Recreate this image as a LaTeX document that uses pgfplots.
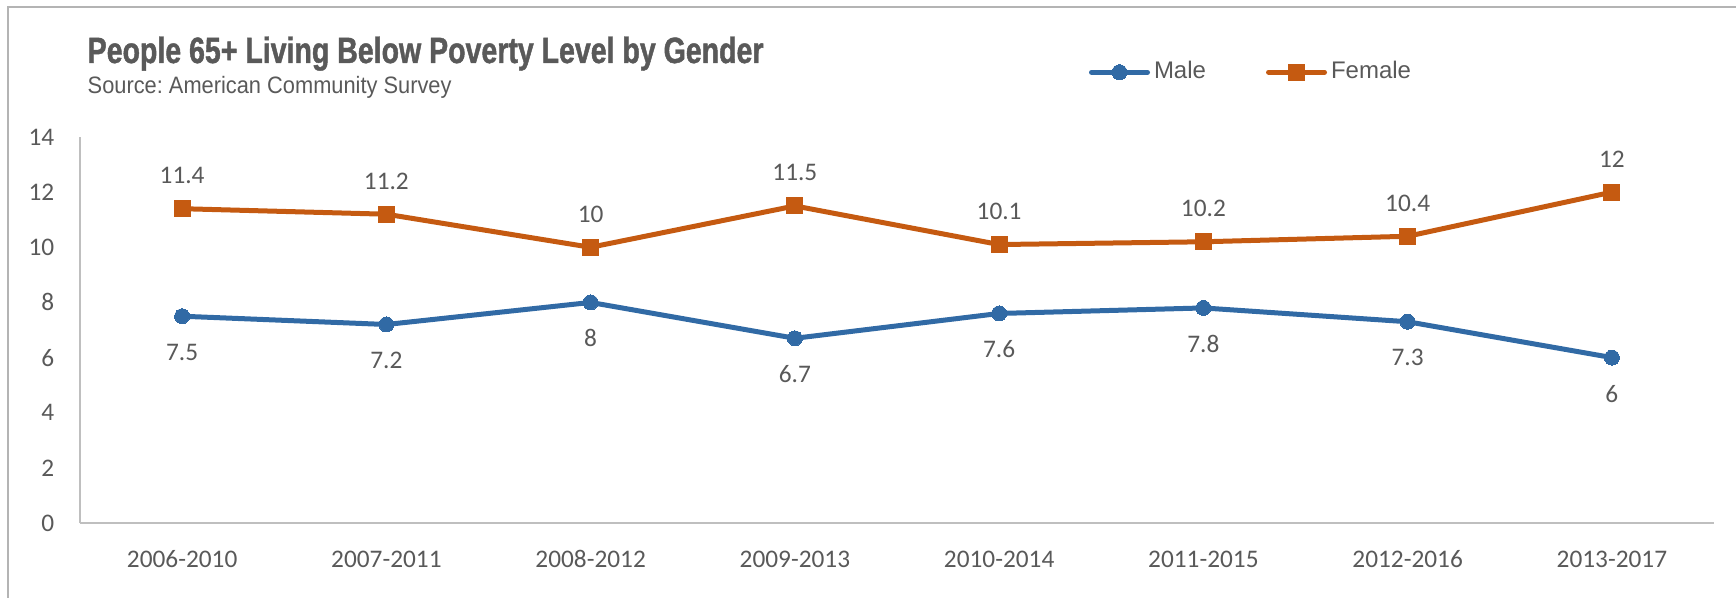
\documentclass[border=0pt]{standalone}
\usepackage{fontspec}
\setmainfont{Carlito}
\newfontfamily\legfont{Liberation Sans}
\newfontfamily\titlefont[FakeStretch=0.78, BoldFeatures={FakeBold=1.2}]{Liberation Sans}
\newfontfamily\subfont[FakeStretch=0.92]{Liberation Sans}
\usepackage{pgfplots}
\pgfplotsset{compat=1.18}
\definecolor{maleblue}{RGB}{49,106,165}
\definecolor{femorange}{RGB}{197,90,17}
\definecolor{txtgray}{RGB}{89,89,89}
\definecolor{axgray}{RGB}{191,191,191}
\definecolor{bordergray}{RGB}{180,180,180}
\frenchspacing
\begin{document}
\begin{tikzpicture}
\useasboundingbox (0,0) rectangle (173.6mm,59.7mm);
\draw[bordergray, line width=0.2mm] (0.8mm,-1mm) -- (0.8mm,59.0mm) -- (175mm,59.0mm);
\node[anchor=base west, inner sep=0pt, text=txtgray] at (8.7mm,53.4mm)
  {\titlefont\bfseries\fontsize{10.4pt}{12pt}\selectfont People 65+ Living Below Poverty Level by Gender};
\node[anchor=base west, inner sep=0pt, text=txtgray] at (8.7mm,50.4mm)
  {\subfont\fontsize{6.75pt}{8pt}\selectfont Source: American Community Survey};
\begin{axis}[
  at={(8.0mm,7.4mm)}, anchor=south west,
  scale only axis, width=163.4mm, height=38.6mm,
  xmin=-0.5, xmax=7.5, ymin=0, ymax=14,
  xtick={0,1,2,3,4,5,6,7},
  xticklabels={2006-2010,2007-2011,2008-2012,2009-2013,2010-2014,2011-2015,2012-2016,2013-2017},
  ytick={0,2,4,6,8,10,12,14},
  axis x line*=bottom, axis y line*=left,
  axis line style={axgray, line width=0.15mm, -},
  major tick length=0pt,
  /pgf/number format/assume math mode=true,
  tick label style={font=\fontsize{7.2pt}{8.5pt}\selectfont, text=txtgray},
  xticklabel style={anchor=center, yshift=-3.6mm},
  yticklabel style={anchor=east, inner sep=0pt, xshift=-2.5mm},
  clip=false,
  legend columns=2,
  legend style={draw=none, fill=none, at={(0.6175,1.168)}, anchor=west,
    inner sep=0pt, outer sep=0pt,
    font=\legfont\fontsize{6.83pt}{8pt}\selectfont, text=txtgray,
    nodes={inner sep=0.4mm},
    /tikz/every even column/.append style={column sep=5.6mm}},
  legend image code/.code={\draw[#1, line cap=round, mark repeat=2, mark phase=2] plot coordinates {(0mm,0mm) (2.8mm,0mm) (5.6mm,0mm)};},
  every node near coord/.append style={font=\fontsize{7.2pt}{8.5pt}\selectfont, text=txtgray, anchor=center},
]
\addplot[maleblue, line width=0.5mm, mark=*, mark size=0.75mm, mark options={solid, fill=maleblue, line width=0pt},
  nodes near coords, every node near coord/.append style={yshift=-3.6mm}]
  coordinates {(0,7.5) (1,7.2) (2,8) (3,6.7) (4,7.6) (5,7.8) (6,7.3) (7,6)};
\addlegendentry{Male}
\addplot[femorange, line width=0.5mm, mark=square*, mark size=0.8mm, mark options={solid, fill=femorange, line width=0pt},
  nodes near coords, every node near coord/.append style={yshift=3.3mm}]
  coordinates {(0,11.4) (1,11.2) (2,10) (3,11.5) (4,10.1) (5,10.2) (6,10.4) (7,12)};
\addlegendentry{Female}
\end{axis}
\end{tikzpicture}
\end{document}
